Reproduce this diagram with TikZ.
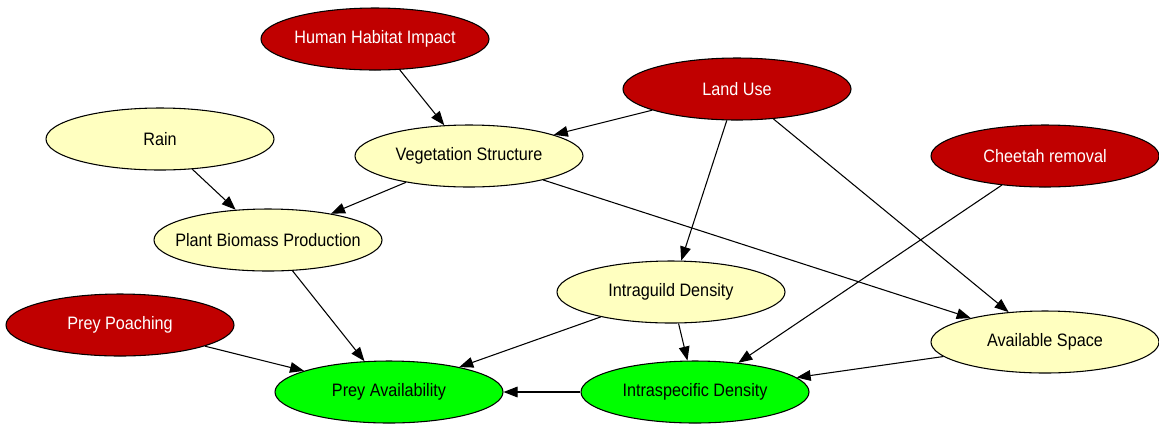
\documentclass[tikz,border=0pt]{standalone}
\usepackage{fontspec}
\setmainfont{Liberation Sans}[FakeStretch=0.9]
\usetikzlibrary{shapes.geometric, arrows.meta}
\definecolor{driver}{HTML}{C00000}
\definecolor{factor}{HTML}{FFFFC0}
\definecolor{outcome}{HTML}{00FF00}

\begin{document}
\begin{tikzpicture}[x=0.75pt, y=-0.75pt,
    var/.style={draw, ellipse, line width=0.8pt, minimum width=171pt, minimum height=46.5pt,
      inner ysep=0pt, inner xsep=-15pt, font=\fontsize{13.5pt}{16pt}\selectfont},
    drv/.style={var, fill=driver, text=white},
    fct/.style={var, fill=factor},
    res/.style={var, fill=outcome},
    link/.style={-{Triangle[length=10.5pt, width=8pt]}, line width=0.8pt}]
  \useasboundingbox (0,0) rectangle (1159,426);
  \node[drv] (human) at (375,39) {Human Habitat Impact};
  \node[drv] (land) at (737,89) {Land Use};
  \node[fct] (rain) at (160,139) {Rain};
  \node[fct] (veg) at (469,156) {Vegetation Structure};
  \node[drv] (cheetah) at (1045,156) {Cheetah removal};
  \node[fct] (plant) at (268,240) {Plant Biomass Production};
  \node[fct] (guild) at (671,292) {Intraguild Density};
  \node[drv] (poach) at (120,325) {Prey Poaching};
  \node[fct] (space) at (1045,342) {Available Space};
  \node[res] (prey) at (389,392) {Prey Availability};
  \node[res] (intra) at (695,392) {Intraspecific Density};
  \draw[link] (human) -- (veg);
  \draw[link] (land) -- (veg);
  \draw[link] (land) -- (guild);
  \draw[link] (land) -- (space);
  \draw[link] (rain) -- (plant);
  \draw[link] (veg) -- (plant);
  \draw[link] (veg) -- (space);
  \draw[link] (cheetah) -- (intra);
  \draw[link] (plant) -- (prey);
  \draw[link] (guild) -- (prey);
  \draw[link] (guild) -- (intra);
  \draw[link] (poach) -- (prey);
  \draw[link] (space) -- (intra);
  \draw[link] (intra) -- (prey);
\end{tikzpicture}
\end{document}
